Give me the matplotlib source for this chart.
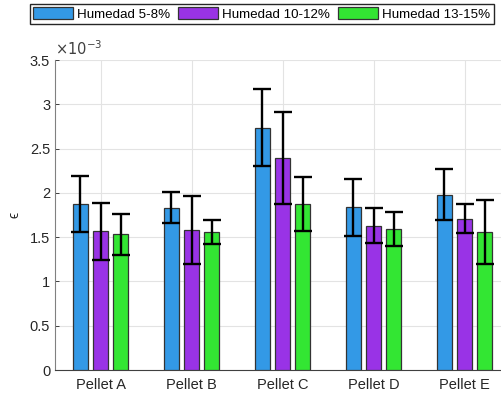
import numpy as np
import matplotlib
matplotlib.use("Agg")
import matplotlib.pyplot as plt
from matplotlib.ticker import FixedLocator

plt.rcParams['font.family'] = ['Liberation Sans', 'DejaVu Sans']

categories = ['Pellet A', 'Pellet B', 'Pellet C', 'Pellet D', 'Pellet E']
series_names = ['Humedad 5-8%', 'Humedad 10-12%', 'Humedad 13-15%']

# values in units of 1e-3
mean_5_8 = [1.87, 1.83, 2.735, 1.836, 1.98]
mean_10_12 = [1.567, 1.58, 2.39, 1.63, 1.71]
mean_13_15 = [1.53, 1.555, 1.878, 1.59, 1.558]
err_5_8 = [0.315, 0.175, 0.435, 0.325, 0.29]
err_10_12 = [0.32, 0.385, 0.52, 0.2, 0.165]
err_13_15 = [0.235, 0.135, 0.305, 0.195, 0.365]

colors = ['#3399E6', '#9933E6', '#33E633']

means = [mean_5_8, mean_10_12, mean_13_15]
errs = [err_5_8, err_10_12, err_13_15]

fig = plt.figure(figsize=(5.01, 3.95), dpi=100)
# axes extends a bit past the right edge, like the cropped original
ax = fig.add_axes([55 / 501, 25 / 395, 455 / 501, 310 / 395])

x = np.arange(1, len(categories) + 1)
offsets = [-0.22, 0.0, 0.22]
width = 0.155

handles = []
for i in range(3):
    b = ax.bar(x + offsets[i], means[i], width, color=colors[i],
               edgecolor='#333333', linewidth=0.9, label=series_names[i], zorder=3)
    handles.append(b)
    ax.errorbar(x + offsets[i], means[i], yerr=errs[i], fmt='none',
                ecolor='black', elinewidth=1.7, capsize=6.5, capthick=1.7, zorder=4)

ax.set_xlim(0.5, 5.5)
ax.set_ylim(0, 3.5)
ax.set_xticks(x)
ax.set_xticklabels(categories)
ax.yaxis.set_major_locator(FixedLocator([0, 0.5, 1, 1.5, 2, 2.5, 3, 3.5]))
ax.set_yticklabels(['0', '0.5', '1', '1.5', '2', '2.5', '3', '3.5'])
ax.tick_params(axis='both', labelsize=10.5, colors='#262626', direction='in', length=3, width=0.6)
ax.tick_params(axis='x', length=0, pad=6)
ax.grid(True, color='#E3E3E3', linewidth=0.8, zorder=0)
ax.set_axisbelow(True)
for s in ['top', 'right']:
    ax.spines[s].set_visible(False)
ax.spines['left'].set_color('#808080')
ax.spines['bottom'].set_color('#404040')
ax.spines['left'].set_linewidth(0.8)
ax.spines['bottom'].set_linewidth(0.8)

ax.set_ylabel('ϵ', fontsize=10, color='#262626', labelpad=6)
ax.text(0.0, 1.005, r'$\times10^{-3}$', transform=ax.transAxes, fontsize=10.5,
        color='#404040', ha='left', va='bottom', family='DejaVu Sans')

fig.legend(handles=handles, labels=series_names, loc='upper left',
           bbox_to_anchor=(30 / 501, 1 - 4 / 395), ncol=3, fontsize=9.6,
           frameon=True, fancybox=False, edgecolor='#262626', framealpha=1,
           handlelength=3.0, handleheight=1.0, handletextpad=0.3,
           columnspacing=0.6, borderpad=0.25, borderaxespad=0)

fig.savefig('out.png', dpi=100)
